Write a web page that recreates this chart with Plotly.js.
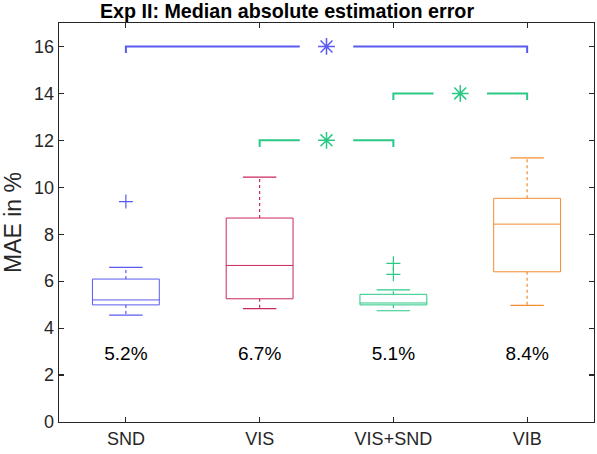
<!DOCTYPE html>
<html>
<head>
<meta charset="utf-8">
<script src="https://cdn.plot.ly/plotly-3.0.1.min.js"></script>
<style>html,body{margin:0;padding:0;background:#fff;}#chart{width:597px;height:454px;}</style>
</head>
<body>
<div id="chart"></div>
<script>
// ---- data ----
const categories   = ['SND', 'VIS', 'VIS+SND', 'VIB'];
const lowerWhisker = [4.55, 4.83, 4.74, 4.97];
const q1Values     = [4.99, 5.25, 4.99, 6.40];
const medianValues = [5.20, 6.67, 5.07, 8.43];
const q3Values     = [6.09, 8.69, 5.44, 9.53];
const upperWhisker = [6.59, 10.43, 5.63, 11.25];
const outliers     = [[9.39], [], [6.76, 6.29], []];
const medianLabels = ['5.2%', '6.7%', '5.1%', '8.4%'];
const groupColors  = ['#5a5af0', '#c8285a', '#2ac884', '#f58c32'];

// significance brackets: pair of category indices (1-based), level, colour
const sigPairs  = [[1, 4], [3, 4], [2, 3]];
const sigLevels = [16, 14, 12];
const sigColors = ['#5a5af0', '#2ac884', '#2ac884'];

const labelLevel = 2.85;

// ---- build traces ----
const font = 'Liberation Sans, Arial, Helvetica, sans-serif';
const traces = [];
const boxHalf = 0.25, capHalf = 0.125;

categories.forEach((c, i) => {
  const x = i + 1, col = groupColors[i];
  traces.push({
    type: 'box', x: [x], q1: [q1Values[i]], median: [medianValues[i]], q3: [q3Values[i]],
    lowerfence: [q1Values[i]], upperfence: [q3Values[i]],
    width: 2 * boxHalf, whiskerwidth: 0, boxpoints: false,
    line: {color: col, width: 1}, fillcolor: 'rgba(0,0,0,0)',
    hoverinfo: 'skip', showlegend: false
  });
  // dashed whiskers
  traces.push({
    type: 'scatter', mode: 'lines',
    x: [x, x, null, x, x],
    y: [q3Values[i], upperWhisker[i], null, q1Values[i], lowerWhisker[i]],
    line: {color: col, width: 1.2, dash: '3px,3px'},
    hoverinfo: 'skip', showlegend: false
  });
  // caps
  traces.push({
    type: 'scatter', mode: 'lines',
    x: [x - capHalf, x + capHalf, null, x - capHalf, x + capHalf],
    y: [upperWhisker[i], upperWhisker[i], null, lowerWhisker[i], lowerWhisker[i]],
    line: {color: col, width: 1.2},
    hoverinfo: 'skip', showlegend: false
  });
  // outliers
  if (outliers[i].length) {
    traces.push({
      type: 'scatter', mode: 'markers',
      x: outliers[i].map(() => x), y: outliers[i],
      marker: {symbol: 'cross-thin-open', size: 10, color: col, line: {color: col, width: 1.2}},
      hoverinfo: 'skip', showlegend: false
    });
  }
});

// median labels
traces.push({
  type: 'scatter', mode: 'text',
  x: categories.map((c, i) => i + 1), y: categories.map(() => labelLevel),
  text: medianLabels, textposition: 'middle center',
  textfont: {family: font, size: 19, color: '#000'},
  hoverinfo: 'skip', showlegend: false
});

// significance brackets
const gap = 0.2, drop = 0.28;
sigPairs.forEach((p, k) => {
  const a = p[0], b = p[1], lvl = sigLevels[k], mid = (a + b) / 2, col = sigColors[k];
  traces.push({
    type: 'scatter', mode: 'lines',
    x: [a, a, mid - gap, null, mid + gap, b, b],
    y: [lvl - drop, lvl, lvl, null, lvl, lvl, lvl - drop],
    line: {color: col, width: 2},
    hoverinfo: 'skip', showlegend: false
  });
  traces.push({
    type: 'scatter', mode: 'markers', x: [mid], y: [lvl],
    marker: {symbol: 'asterisk-open', size: 14, color: col, line: {color: col, width: 1.5}},
    hoverinfo: 'skip', showlegend: false
  });
});

const layout = {
  width: 597, height: 454,
  margin: {l: 59, r: 3, t: 23, b: 32},
  paper_bgcolor: '#fff', plot_bgcolor: '#fff',
  font: {family: font, size: 18, color: '#262626'},
  title: {text: '<b>Exp II: Median absolute estimation error</b>', x: 287 / 597, xanchor: 'center',
          yref: 'container', y: 1 - 11 / 454, yanchor: 'middle',
          font: {family: font, size: 19.7, color: '#000'}},
  xaxis: {
    range: [0.5, 4.5], tickvals: categories.map((c, i) => i + 1), ticktext: categories,
    ticks: 'inside', ticklen: 5, tickwidth: 1.2, tickcolor: '#262626',
    showline: true, linecolor: '#262626', linewidth: 1.3, mirror: 'ticks',
    showgrid: false, zeroline: false,
    tickfont: {family: font, size: 18, color: '#262626'}
  },
  yaxis: {
    range: [0, 17], tickvals: [0, 2, 4, 6, 8, 10, 12, 14, 16],
    ticks: 'inside', ticklen: 5, tickwidth: 1.2, tickcolor: '#262626',
    showline: true, linecolor: '#262626', linewidth: 1.3, mirror: 'ticks',
    showgrid: false, zeroline: false,
    tickfont: {family: font, size: 18, color: '#262626'},
    title: {text: 'MAE in %', standoff: 8, font: {family: font, size: 23, color: '#262626'}}
  }
};

Plotly.newPlot('chart', traces, layout, {staticPlot: true, displayModeBar: false});
</script>
</body>
</html>
